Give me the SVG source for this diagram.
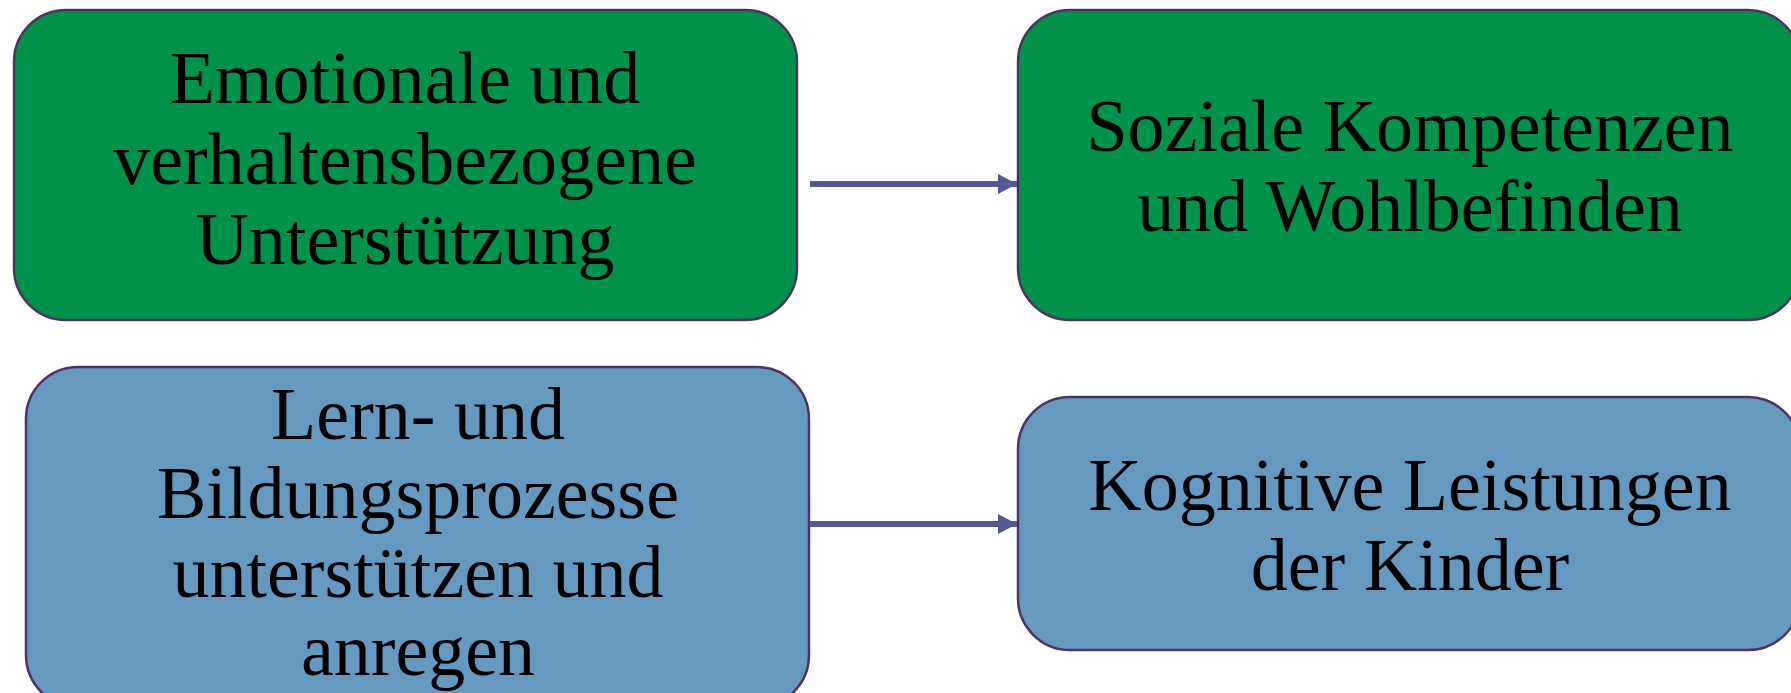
<svg xmlns="http://www.w3.org/2000/svg" width="1791" height="693" viewBox="0 0 1791 693">
<defs>
<style>
.box{stroke:#4E3264;stroke-width:2.5}
.g{fill:#00924A}
.b{fill:#6699C0}
.t{font-family:"Liberation Serif","Times New Roman",serif;font-size:74px;fill:#000;text-anchor:middle}
.c{stroke:#525891;stroke-width:6;fill:none}
</style>
<marker id="ah" markerUnits="userSpaceOnUse" markerWidth="20" markerHeight="20" viewBox="0 0 20 20" refX="19" refY="10" orient="auto">
<path d="M0,0 L19,10 L0,20 Z" fill="#525891"/>
</marker>
</defs>
<rect width="1791" height="693" fill="#fff"/>
<g id="node-emotionale">
<rect class="box g" x="14" y="10" width="783" height="310" rx="52"/>
<text class="t" x="405" y="103">Emotionale und</text>
<text class="t" x="405" y="184">verhaltensbezogene</text>
<text class="t" x="405" y="264">Unterstützung</text>
</g>
<g id="node-soziale">
<rect class="box g" x="1018" y="10" width="782" height="310" rx="52"/>
<text class="t" x="1410" y="151">Soziale Kompetenzen</text>
<text class="t" x="1410" y="231">und Wohlbefinden</text>
</g>
<g id="node-lern">
<rect class="box b" x="26" y="367" width="783" height="340" rx="52"/>
<text class="t" x="418" y="439">Lern- und</text>
<text class="t" x="418" y="518">Bildungsprozesse</text>
<text class="t" x="418" y="597">unterstützen und</text>
<text class="t" x="418" y="675">anregen</text>
</g>
<g id="node-kognitive">
<rect class="box b" x="1018" y="397" width="782" height="253" rx="52"/>
<text class="t" x="1410" y="510">Kognitive Leistungen</text>
<text class="t" x="1410" y="590">der Kinder</text>
</g>
<g id="connectors">
<line class="c" x1="810" y1="184" x2="1017" y2="184" marker-end="url(#ah)"/>
<line class="c" x1="810" y1="524" x2="1017" y2="524" marker-end="url(#ah)"/>
</g>
</svg>
